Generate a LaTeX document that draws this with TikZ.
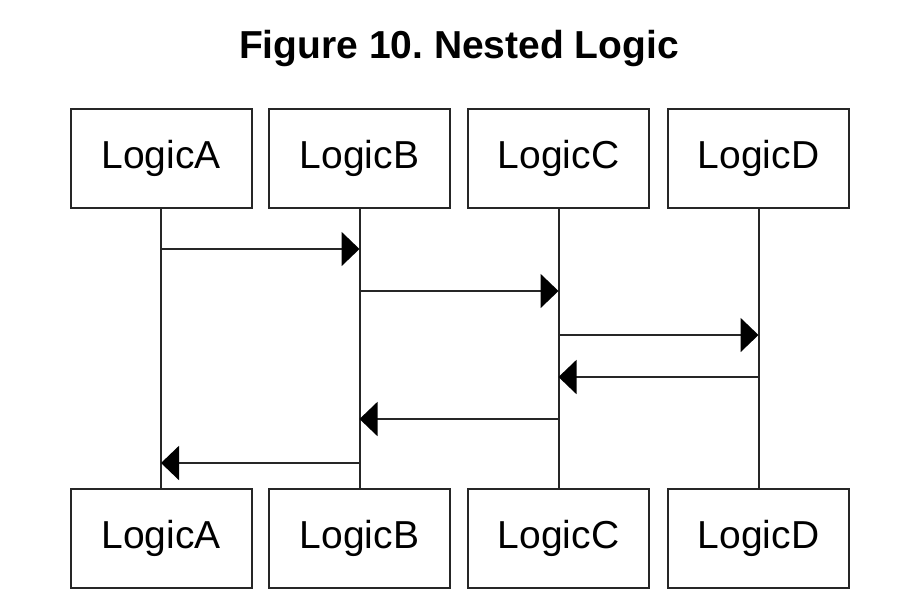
\documentclass[tikz,border=0pt]{standalone}
\usepackage{fontspec}
\setmainfont{Liberation Sans}
\usetikzlibrary{arrows.meta}
\frenchspacing
\begin{document}
\begin{tikzpicture}[x=1pt,y=-1pt,
  actor/.style={draw=black!85,line width=2pt,minimum width=181pt,minimum height=99pt,inner sep=0pt,
    font=\fontsize{39}{47}\selectfont},
  lifeline/.style={draw=black!85,line width=2pt},
  msg/.style={draw=black!85,line width=2pt,-{Triangle[length=18pt,width=34pt,color=black]}},
  titlestyle/.style={font=\fontsize{39}{47}\selectfont\bfseries,inner sep=0pt}]
\useasboundingbox (0,0) rectangle (912,614);
\node[titlestyle] (title) at (459,48) {Figure 10. Nested Logic};
\node[actor] (A) at (161,158) {LogicA};
\node[actor] (B) at (359.5,158) {LogicB};
\node[actor] (C) at (558.5,158) {LogicC};
\node[actor] (D) at (758.5,158) {LogicD};
\node[actor] (A2) at (161,538) {LogicA};
\node[actor] (B2) at (359.5,538) {LogicB};
\node[actor] (C2) at (558.5,538) {LogicC};
\node[actor] (D2) at (758.5,538) {LogicD};
\draw[lifeline] (A) -- (A2);
\draw[lifeline] (B) -- (B2);
\draw[lifeline] (C) -- (C2);
\draw[lifeline] (D) -- (D2);
\draw[msg] (A |- 0,249) -- (B |- 0,249);
\draw[msg] (B |- 0,291) -- (C |- 0,291);
\draw[msg] (C |- 0,335) -- (D |- 0,335);
\draw[msg] (D |- 0,377) -- (C |- 0,377);
\draw[msg] (C |- 0,419) -- (B |- 0,419);
\draw[msg] (B |- 0,463) -- (A |- 0,463);
\end{tikzpicture}
\end{document}
